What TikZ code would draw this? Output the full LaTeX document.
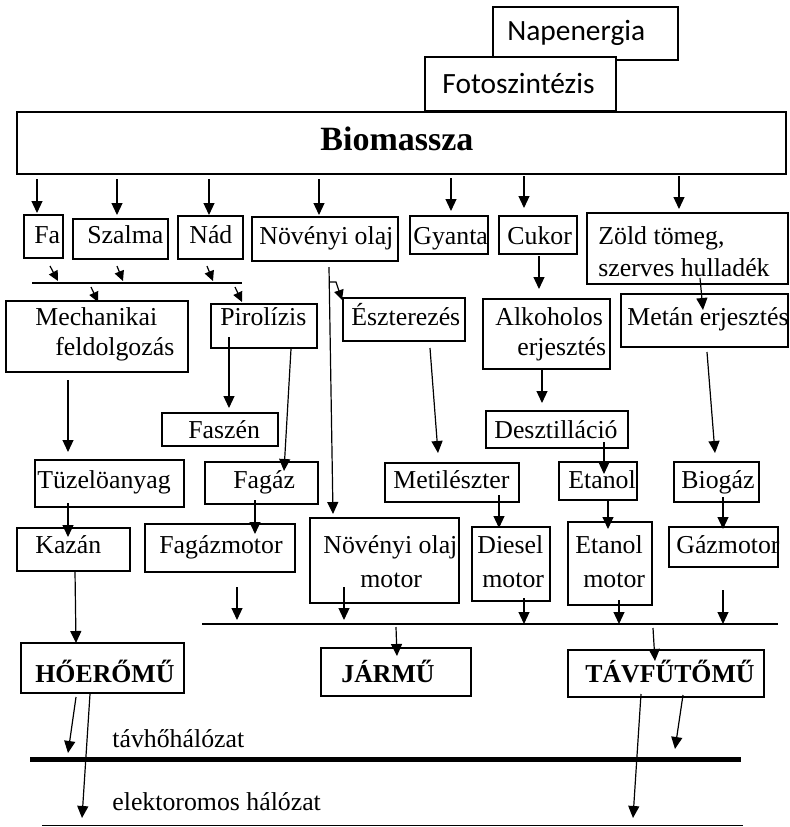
\documentclass[tikz,border=0pt]{standalone}
\usepackage{fontspec}
\setmainfont{Liberation Serif}
\newfontfamily\calfont{Carlito}
\usetikzlibrary{arrows.meta,fit}
\begin{document}
\begin{tikzpicture}[x=0.5pt,y=-0.5pt,
 box/.style={draw,line width=0.85pt,inner sep=0pt},
 txt/.style={anchor=base west,inner sep=0pt,font=\fontsize{12.9}{14}\selectfont},
 btxt/.style={anchor=base west,inner sep=0pt,font=\fontsize{12.9}{14}\selectfont\bfseries},
 ctxt/.style={anchor=base west,inner sep=0pt,font=\calfont\fontsize{14.7}{16}\selectfont},
 arr/.style={line width=0.6pt,-{Triangle[length=6pt,width=5.5pt]}},
 sarr/.style={line width=0.6pt,-{Triangle[length=5pt,width=4.8pt]}},
 ln/.style={line width=0.6pt}]
\useasboundingbox (0,0) rectangle (790,827);
% boxes
\node[box,fit={(493,7) (678,60)}] (nap) {};
\node[box,fill=white,fit={(425,57) (616,111)}] (foto) {};
\node[box,fit={(17,112) (786,174)}] (bio) {};
\node[box,fit={(24,215) (63,258)}] (fa) {};
\node[box,fit={(73,219) (168,259)}] (szal) {};
\node[box,fit={(178,216) (243,259)}] (nad) {};
\node[box,fit={(252,217) (398,261)}] (nov) {};
\node[box,fit={(410,216) (488,254)}] (gya) {};
\node[box,fit={(499,216) (577,254)}] (cuk) {};
\node[box,fit={(587,213) (788,284)}] (zold) {};
\node[box,fit={(6,301) (188,372)}] (mech) {};
\node[box,fit={(211,304) (317,348)}] (pir) {};
\node[box,fit={(343,298) (465,341)}] (esz) {};
\node[box,fit={(483,299) (610,369)}] (alk) {};
\node[box,fit={(621,294) (788,347)}] (met) {};
\node[box,fit={(162,413) (278,446)}] (fasz) {};
\node[box,fit={(486,411) (628,448)}] (desz) {};
\node[box,fit={(35,460) (184,507)}] (tuz) {};
\node[box,fit={(205,462) (318,504)}] (fag) {};
\node[box,fit={(385,463) (519,502)}] (mesz) {};
\node[box,fit={(559,462) (637,500)}] (etan) {};
\node[box,fit={(674,462) (759,502)}] (biog) {};
\node[box,fit={(17,528) (130,571)}] (kaz) {};
\node[box,fit={(145,524) (295,572)}] (fagm) {};
\node[box,fit={(310,518) (459,603)}] (novm) {};
\node[box,fit={(472,527) (550,601)}] (dies) {};
\node[box,fit={(568,522) (652,605)}] (etm) {};
\node[box,fit={(669,527) (778,567)}] (gazm) {};
\node[box,fit={(21,643) (184,693)}] (hoe) {};
\node[box,fit={(321,648) (471,696)}] (jar) {};
\node[box,fit={(568,650) (764,697)}] (tav) {};
% texts
\node[ctxt] (napt) at (507,40) {Napenergia};
\node[ctxt] (fotot) at (442,93) {Fotoszintézis};
\node[anchor=base west,inner sep=0pt,font=\fontsize{17}{19}\selectfont\bfseries] (biot) at (320,150) {Biomassza};
\node[txt] (fat) at (34,243) {Fa};
\node[txt] (szalt) at (87,243) {Szalma};
\node[txt] (nadt) at (189,243) {Nád};
\node[txt] (novt) at (259,244) {Növényi olaj};
\node[txt] (gyat) at (413,244) {Gyanta};
\node[txt] (cukt) at (507,244) {Cukor};
\node[txt] (zoldt) at (598,244) {Zöld tömeg,};
\node[txt] (zoldt2) at (598,276) {szerves hulladék};
\node[txt] (mecht) at (35,325) {Mechanikai};
\node[txt] (mecht2) at (55,355) {feldolgozás};
\node[txt] (pirt) at (220,325) {Pirolízis};
\node[txt] (eszt) at (351,325) {Észterezés};
\node[txt] (alkt) at (495,325) {Alkoholos};
\node[txt] (alkt2) at (517,355) {erjesztés};
\node[txt] (mett) at (627,325) {Metán erjesztés};
\node[txt] (faszt) at (188,438) {Faszén};
\node[txt] (deszt) at (494,438) {Desztilláció};
\node[txt] (tuzt) at (37,488) {Tüzelöanyag};
\node[txt] (fagt) at (233,488) {Fagáz};
\node[txt] (meszt) at (393,488) {Metilészter};
\node[txt] (etant) at (568,488) {Etanol};
\node[txt] (biogt) at (681,488) {Biogáz};
\node[txt] (kazt) at (35,553) {Kazán};
\node[txt] (fagmt) at (159,553) {Fagázmotor};
\node[txt] (novmt) at (323,553) {Növényi olaj};
\node[txt] (novmt2) at (360,587) {motor};
\node[txt] (diest) at (477,553) {Diesel};
\node[txt] (diest2) at (482,587) {motor};
\node[txt] (etmt) at (575,553) {Etanol};
\node[txt] (etmt2) at (583,587) {motor};
\node[txt] (gazmt) at (676,553) {Gázmotor};
\node[btxt] (hoet) at (35,682) {HŐERŐMŰ};
\node[btxt] (jart) at (341,682) {JÁRMŰ};
\node[btxt] (tavt) at (585,682) {TÁVFŰTŐMŰ};
\node[txt] (tavhot) at (112,747) {távhőhálózat};
\node[txt] (elekt) at (112,810) {elektoromos hálózat};
% bus lines
\draw[ln] (32,283) -- (242,283);
\draw[ln] (202,624) -- (778,624);
\draw[line width=2.5pt] (30,759) -- (741,759);
\draw[line width=0.8pt] (42,825.5) -- (743,825.5);
% arrows from Biomassza
\draw[arr] (37,179) -- (37,213);
\draw[arr] (117,179) -- (117,215);
\draw[arr] (209,179) -- (209,215);
\draw[arr] (319,179) -- (319,215);
\draw[arr] (451,178) -- (451,211);
\draw[arr] (524,176) -- (524,208);
\draw[arr] (679,176) -- (679,209);
% small arrows
\draw[sarr] (50,266) -- (58,281);
\draw[sarr] (117,266) -- (123,281);
\draw[sarr] (207,266) -- (213,281);
\draw[sarr] (91,287) -- (98,302);
\draw[sarr] (235,287) -- (242,302);
% Növényi olaj
\draw[arr] (329,267) -- (333,514);
\draw[sarr] (329,282) -- (336,282) -- (342,300);
% middle arrows
\draw[arr] (539,256) -- (539,289);
\draw[arr] (700,278) -- (703,310);
\draw[arr] (229,337) -- (229,408);
\draw[arr] (291,349) -- (284,471);
\draw[arr] (68,380) -- (68,452);
\draw[arr] (430,348) -- (438,453);
\draw[arr] (542,370) -- (542,403);
\draw[arr] (707,352) -- (715,453);
\draw[arr] (68,503) -- (68,537);
\draw[arr] (255,500) -- (255,534);
\draw[arr] (499,495) -- (499,528);
\draw[arr] (604,442) -- (604,474);
\draw[arr] (608,500) -- (608,529);
\draw[arr] (723,497) -- (723,529);
% lower arrows
\draw[arr] (75,571) -- (76,643);
\draw[arr] (237,587) -- (237,620);
\draw[arr] (344,587) -- (344,620);
\draw[arr] (524,598) -- (524,624);
\draw[arr] (619,600) -- (619,624);
\draw[arr] (723,590) -- (723,624);
\draw[arr] (396,627) -- (397,656);
\draw[arr] (653,628) -- (655,661);
\draw[arr] (683,695) -- (675,749);
\draw[arr] (641,694) -- (633,818);
\draw[arr] (76,697) -- (68,753);
\draw[arr] (90,694) -- (82,818);
\end{tikzpicture}
\end{document}
